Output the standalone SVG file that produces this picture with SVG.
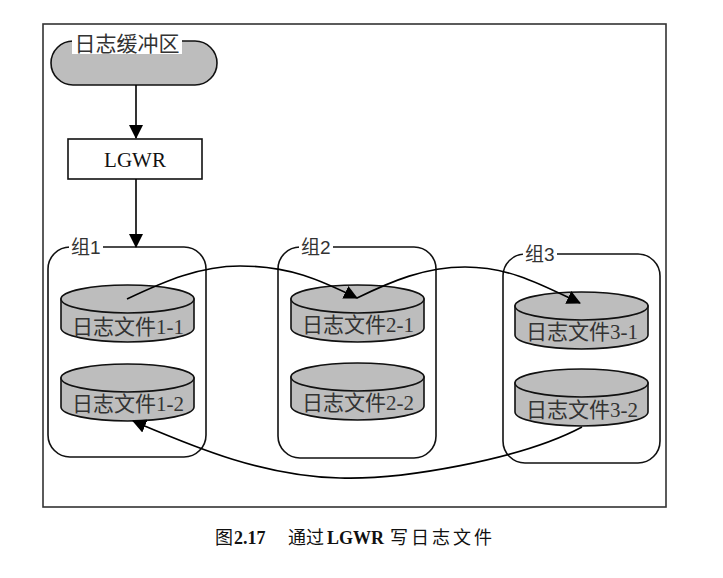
<svg xmlns="http://www.w3.org/2000/svg" width="723" height="578" viewBox="0 0 723 578">
<defs>
<style>
.frame{fill:none;stroke:#333;stroke-width:1.6}
.grp{fill:none;stroke:#111;stroke-width:1.6}
.shape{fill:#bdbdbd;stroke:#111;stroke-width:1.6}
.box{fill:#fff;stroke:#111;stroke-width:1.6}
.conn{fill:none;stroke:#000;stroke-width:1.6}
.cyl{font-family:"Liberation Serif","Noto Sans CJK SC",serif;font-size:21px;fill:#333;text-anchor:middle}
.lbl{font-family:"Liberation Sans","Noto Sans CJK SC",sans-serif;font-size:19px;fill:#333}
.cap{font-family:"Liberation Serif","Noto Sans CJK SC",serif;font-size:18px;fill:#111}
</style>
<marker id="ah" viewBox="0 0 14 14" refX="13" refY="7" markerWidth="14" markerHeight="14" markerUnits="userSpaceOnUse" orient="auto">
<path d="M0,0 L14,7 L0,14 Z" fill="#000"/>
</marker>
<g id="cylshape">
<path class="shape" d="M0,0 V29 A66.5,14 0 0 0 133,29 V0 Z"/>
<ellipse class="shape" cx="66.5" cy="0" rx="66.5" ry="14"/>
</g>
</defs>
<rect width="723" height="578" fill="#fff"/>
<rect class="frame" x="43" y="24" width="623" height="483"/>

<g id="buffer">
<rect class="shape" x="51" y="41" width="166" height="44" rx="22" ry="22"/>
<rect x="72" y="33" width="110" height="21" fill="#fff"/>
<text class="lbl" x="127" y="51" text-anchor="middle" style="font-size:21px">日志缓冲区</text>
</g>

<g id="lgwr">
<rect class="box" x="68" y="139" width="134" height="40"/>
<text x="135" y="167" text-anchor="middle" font-family="Liberation Serif, serif" font-size="21" fill="#111">LGWR</text>
</g>

<g id="group1">
<rect class="grp" x="48" y="247" width="158" height="210" rx="22" ry="22"/>
<rect x="69" y="238" width="34" height="18" fill="#fff"/>
<text class="lbl" x="71" y="254">组1</text>
</g>
<g id="group2">
<rect class="grp" x="278" y="247" width="158" height="211" rx="22" ry="22"/>
<rect x="299" y="238" width="34" height="18" fill="#fff"/>
<text class="lbl" x="301" y="254">组2</text>
</g>
<g id="group3">
<rect class="grp" x="503" y="254" width="157" height="209" rx="22" ry="22"/>
<rect x="523" y="245" width="34" height="18" fill="#fff"/>
<text class="lbl" x="525" y="261">组3</text>
</g>

<g id="file1-1"><use href="#cylshape" transform="translate(61,299)"/><text class="cyl" x="128" y="334">日志文件1-1</text></g>
<g id="file1-2"><use href="#cylshape" transform="translate(61,378)"/><text class="cyl" x="128" y="411">日志文件1-2</text></g>
<g id="file2-1"><use href="#cylshape" transform="translate(291,299)"/><text class="cyl" x="358" y="332">日志文件2-1</text></g>
<g id="file2-2"><use href="#cylshape" transform="translate(291,377)"/><text class="cyl" x="358" y="410">日志文件2-2</text></g>
<g id="file3-1"><use href="#cylshape" transform="translate(515,306)"/><text class="cyl" x="582" y="339">日志文件3-1</text></g>
<g id="file3-2"><use href="#cylshape" transform="translate(515,383)"/><text class="cyl" x="582" y="417">日志文件3-2</text></g>

<g id="connectors">
<path class="conn" d="M136,85 V138" marker-end="url(#ah)"/>
<path class="conn" d="M136,179 V247" marker-end="url(#ah)"/>
<path class="conn" d="M127,299 C165,281 200,266 240,266 C290,266 320,280 357,298" marker-end="url(#ah)"/>
<path class="conn" d="M357,298 C392,281 425,267 465,267 C510,267 542,285 580,303" marker-end="url(#ah)"/>
<path class="conn" d="M582,427 C520,460 400,480 340,478 C260,476 190,445 133,421" marker-end="url(#ah)"/>
</g>

<text class="cap" y="544"><tspan x="215">图</tspan><tspan x="234" font-weight="bold">2.17</tspan><tspan x="288">通过</tspan><tspan x="327" font-weight="bold">LGWR</tspan><tspan x="390" letter-spacing="3">写日志文件</tspan></text>
</svg>
